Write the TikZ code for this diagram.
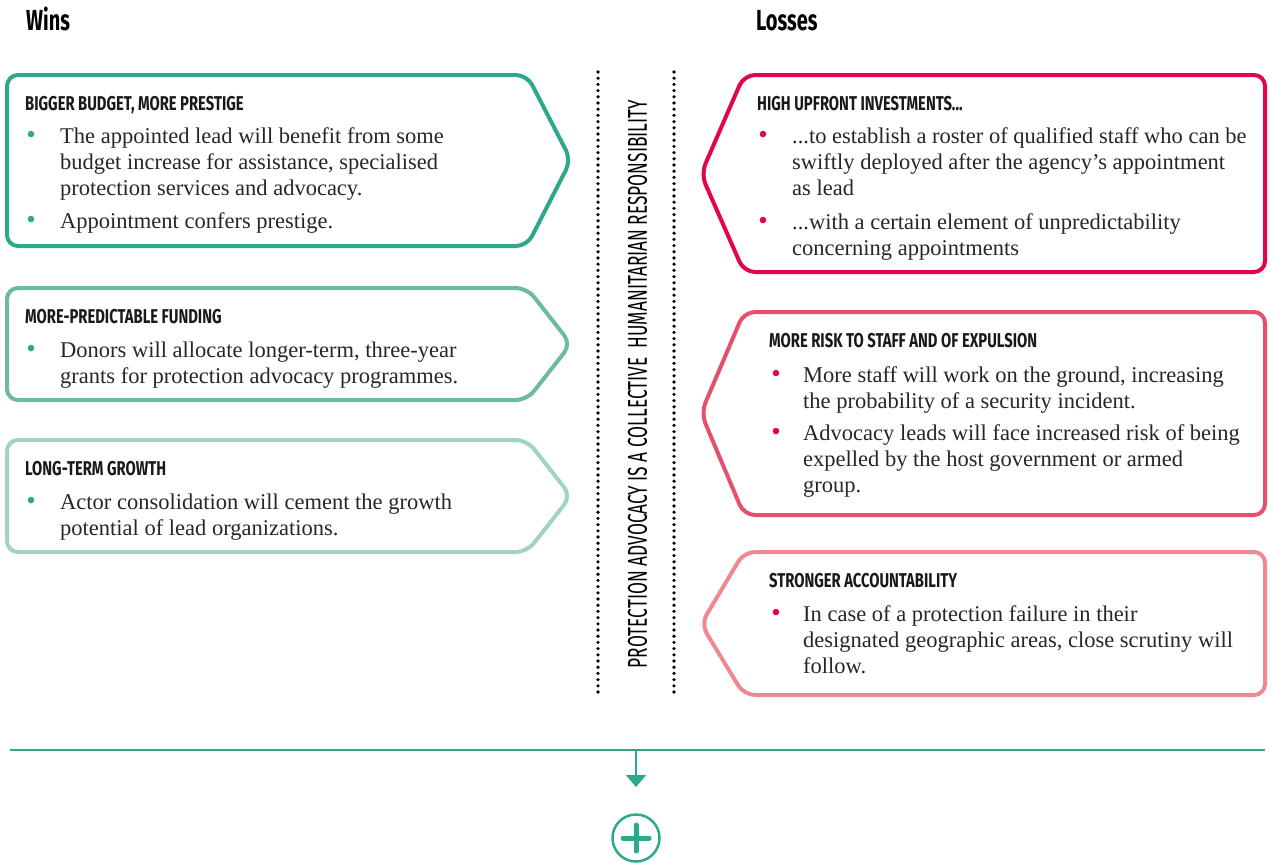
\documentclass[tikz,border=0pt]{standalone}
\usepackage{fontspec}
\setmainfont{Liberation Serif}
\newfontfamily\headfont[FakeStretch=0.74]{Fira Sans}
\newfontfamily\titlefont[FakeStretch=0.69]{Fira Sans}
\newfontfamily\vfont{Fira Sans}
\usetikzlibrary{arrows.meta}
\definecolor{tealA}{HTML}{2BA98A}
\definecolor{tealB}{HTML}{6DBA9D}
\definecolor{tealC}{HTML}{A1D3BF}
\definecolor{redA}{HTML}{E2044F}
\definecolor{redB}{HTML}{E6506C}
\definecolor{redC}{HTML}{EF8991}
\tikzset{
  boxline/.style={line width=4pt, rounded corners=11pt, line join=round},
  head/.style={inner sep=0pt, font=\headfont\bfseries\fontsize{20}{22}\selectfont, text=black!90},
  title/.style={inner sep=0pt, font=\titlefont\bfseries\fontsize{29}{32}\selectfont, text=black},
  body/.style={inner sep=0pt, align=left, font=\fontsize{22.5}{26}\selectfont, text=black!85},
  bul/.style={inner sep=0pt, font=\fontsize{27}{30}\selectfont},
  dotline/.style={line width=3.6pt, line cap=round, dash pattern=on 0pt off 6.2pt},
}
\newcommand\bitem[6]{%
  \node[bul, text=#2, anchor=base] (#1b) at (#3,#5) {\textbullet};
  \node[body, anchor=north west] (#1) at (#4,#5-18.2) {\strut #6};
}
\begin{document}
\begin{tikzpicture}[x=1pt,y=-1pt]
\useasboundingbox (0,0) rectangle (1273,865);

% titles
\node[title, anchor=base west] (wins) at (26,30) {Wins};
\node[title, anchor=base west] (losses) at (756,30) {Losses};

% left boxes
\draw[boxline, tealA] (7,75) -- (527,75) -- (571,160) -- (527,246) -- (7,246) -- cycle;
\draw[boxline, tealB] (7,288) -- (527,288) -- (571,344) -- (527,400) -- (7,400) -- cycle;
\draw[boxline, tealC] (7,440) -- (527,440) -- (571,496) -- (527,552) -- (7,552) -- cycle;

% right boxes
\draw[boxline, redA] (1265,75) -- (744,75) -- (701,174) -- (744,272) -- (1265,272) -- cycle;
\draw[boxline, redB] (1265,312) -- (744,312) -- (701,413) -- (744,515) -- (1265,515) -- cycle;
\draw[boxline, redC] (1265,552) -- (744,552) -- (701,624) -- (744,695) -- (1265,695) -- cycle;

% left texts
\node[head, anchor=base west] (h1) at (25,110) {BIGGER BUDGET, MORE PRESTIGE};
\bitem{l1a}{tealA}{31}{60}{143}{The appointed lead will benefit from some\\budget increase for assistance, specialised\\protection services and advocacy.}
\bitem{l1b}{tealA}{31}{60}{228}{Appointment confers prestige.}

\node[head, anchor=base west] (h2) at (25,323) {MORE-PREDICTABLE FUNDING};
\bitem{l2a}{tealA}{31}{60}{357}{Donors will allocate longer-term, three-year\\grants for protection advocacy programmes.}

\node[head, anchor=base west] (h3) at (25,475) {LONG-TERM GROWTH};
\bitem{l3a}{tealA}{31}{60}{509}{Actor consolidation will cement the growth\\potential of lead organizations.}

% right texts
\node[head, anchor=base west] (h4) at (757,110) {HIGH UPFRONT INVESTMENTS...};
\bitem{r1a}{redA}{763}{792}{143}{...to establish a roster of qualified staff who can be\\swiftly deployed after the agency’s appointment\\as lead}
\bitem{r1b}{redA}{763}{792}{229}{...with a certain element of unpredictability\\concerning appointments}

\node[head, anchor=base west] (h5) at (769,347) {MORE RISK TO STAFF AND OF EXPULSION};
\bitem{r2a}{redA}{776}{803}{382}{More staff will work on the ground, increasing\\the probability of a security incident.}
\bitem{r2b}{redA}{776}{803}{440}{Advocacy leads will face increased risk of being\\expelled by the host government or armed\\group.}

\node[head, anchor=base west] (h6) at (769,587) {STRONGER ACCOUNTABILITY};
\bitem{r3a}{redA}{776}{803}{621}{In case of a protection failure in their\\designated geographic areas, close scrutiny will\\follow.}

% central dotted lines and vertical text
\draw[dotline] (598,72) -- (598,698);
\draw[dotline] (674,72) -- (674,698);
\node[rotate=90, inner sep=0pt] (vtext) at (637.5,384) {\resizebox{568pt}{19pt}{\vfont PROTECTION ADVOCACY IS A COLLECTIVE\ \ HUMANITARIAN RESPONSIBILITY}};

% bottom
\coordinate (lineL) at (10,750);
\coordinate (lineR) at (1265,750);
\coordinate (lineM) at (636,750);
\coordinate (arrEnd) at (636,787);
\draw[tealA, line width=2.5pt] (lineL) -- (lineR);
\draw[tealA, line width=2.5pt, -{Triangle[width=20pt,length=12pt]}] (lineM) -- (arrEnd);
\node[circle, draw=tealA, line width=2.5pt, minimum size=47pt, inner sep=0pt] (plus) at (636,838) {};
\draw[tealA, line width=5pt, line cap=round] ([xshift=-13pt]plus.center) -- ([xshift=13pt]plus.center);
\draw[tealA, line width=5pt, line cap=round] ([yshift=-13pt]plus.center) -- ([yshift=13pt]plus.center);
\end{tikzpicture}
\end{document}
